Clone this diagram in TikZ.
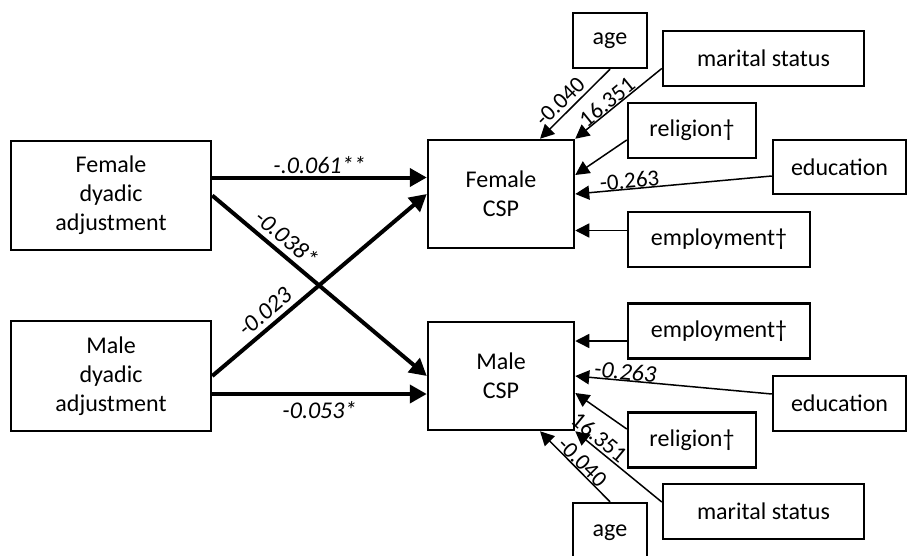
\documentclass[tikz,border=0pt]{standalone}
\usepackage{fontspec}
\setmainfont{Carlito}
\usetikzlibrary{arrows.meta,positioning}

\begin{document}
\begin{tikzpicture}[x=1pt,y=-1pt,
        box/.style={draw=black,line width=2.5pt,inner sep=0pt,align=center,
            font=\fontsize{24}{29}\selectfont},
        effect/.style={line width=4pt,-{Triangle[length=17pt,width=18pt]}},
        ctrl/.style={line width=1.5pt,-{Triangle[length=14pt,width=14pt]}},
        coef/.style={font=\fontsize{24}{29}\selectfont\itshape,inner sep=2pt},
        num/.style={font=\fontsize{23}{28}\selectfont,inner sep=1pt}]
    \useasboundingbox (0,0) rectangle (909,556);

    % actors
    \node [box,minimum width=200pt,minimum height=109pt] (fda) at (111,195.5) {Female\\dyadic\\adjustment};
    \node [box,minimum width=200pt,minimum height=110pt] (mda) at (111,376) {Male\\dyadic\\adjustment};
    \node [box,minimum width=146pt,minimum height=108pt] (fcsp) at (501,194) {Female\\CSP};
    \node [box,minimum width=146pt,minimum height=108pt] (mcsp) at (501,376) {Male\\CSP};

    % female covariates
    \node [box,minimum width=74pt,minimum height=55pt] (fage) at (610,40.5) {age};
    \node [box,minimum width=201pt,minimum height=55pt] (fmar) at (763.5,58.5) {marital status};
    \node [box,minimum width=128pt,minimum height=55pt] (frel) at (692,130.5) {religion†};
    \node [box,minimum width=133pt,minimum height=54pt] (fedu) at (839.5,167) {education};
    \node [box,minimum width=182pt,minimum height=55pt] (femp) at (719,239.5) {employment†};

    % male covariates
    \node [box,minimum width=182pt,minimum height=55pt] (memp) at (719,331) {employment†};
    \node [box,minimum width=133pt,minimum height=55pt] (medu) at (839.5,403.5) {education};
    \node [box,minimum width=128pt,minimum height=55pt] (mrel) at (692,440) {religion†};
    \node [box,minimum width=201pt,minimum height=55pt] (mmar) at (763.5,511.5) {marital status};
    \node [box,minimum width=74pt,minimum height=60pt] (mage) at (610,533) {age};

    % actor and partner effects
    \draw [effect] ([yshift=18pt]fda.east) -- ([yshift=18pt]fda.east -| fcsp.west)
        node [coef,midway,above] {-.0.061**};
    \draw [effect] (fda.east) -- (mcsp.west)
        node [coef,pos=0.30,sloped,above,inner sep=5pt] {-0.038*};
    \draw [effect] (mda.east) -- (fcsp.west)
        node [coef,pos=0.29,sloped,above,inner sep=5pt] {-0.023};
    \draw [effect] ([yshift=-18pt]mda.east) -- ([yshift=-18pt]mda.east -| mcsp.west)
        node [coef,midway,below,inner sep=5pt] {-0.053*};

    % controls, female
    \draw [ctrl] (fage.south) -- ([xshift=39pt]fcsp.north)
        node [num,pos=0.59,sloped,above,inner sep=4pt] {-0.040};
    \draw [ctrl] ([yshift=-10pt]fmar.west) -- (fcsp.north east)
        node [num,pos=0.57,sloped,above,inner sep=0pt] {16.351};
    \draw [ctrl] ([yshift=-9.5pt]frel.west) -- ([yshift=19pt]fcsp.east);
    \draw [ctrl] ([yshift=-9pt]fedu.west) -- (fcsp.east)
        node [num,pos=0.72,sloped,above,inner sep=0pt] {-0.263};
    \draw [ctrl] ([yshift=9pt]femp.west) -- ([yshift=9pt]femp.west -| fcsp.east);

    % controls, male
    \draw [ctrl] ([yshift=-10pt]memp.west) -- ([yshift=-10pt]memp.west -| mcsp.east);
    \draw [ctrl] ([yshift=9.5pt]medu.west) -- (mcsp.east)
        node [coef,pos=0.75,sloped,above,inner sep=0pt] {-0.263};
    \draw [ctrl] ([yshift=11pt]mrel.west) -- ([yshift=-17pt]mcsp.east);
    \draw [ctrl] ([yshift=9.5pt]mmar.west) -- (mcsp.south east)
        node [num,pos=0.80,sloped,above,inner sep=2pt] {16.351};
    \draw [ctrl] (mage.north) -- ([xshift=39pt]mcsp.south)
        node [num,pos=0.48,sloped,above,inner sep=0pt] {-0.040};
\end{tikzpicture}
\end{document}
